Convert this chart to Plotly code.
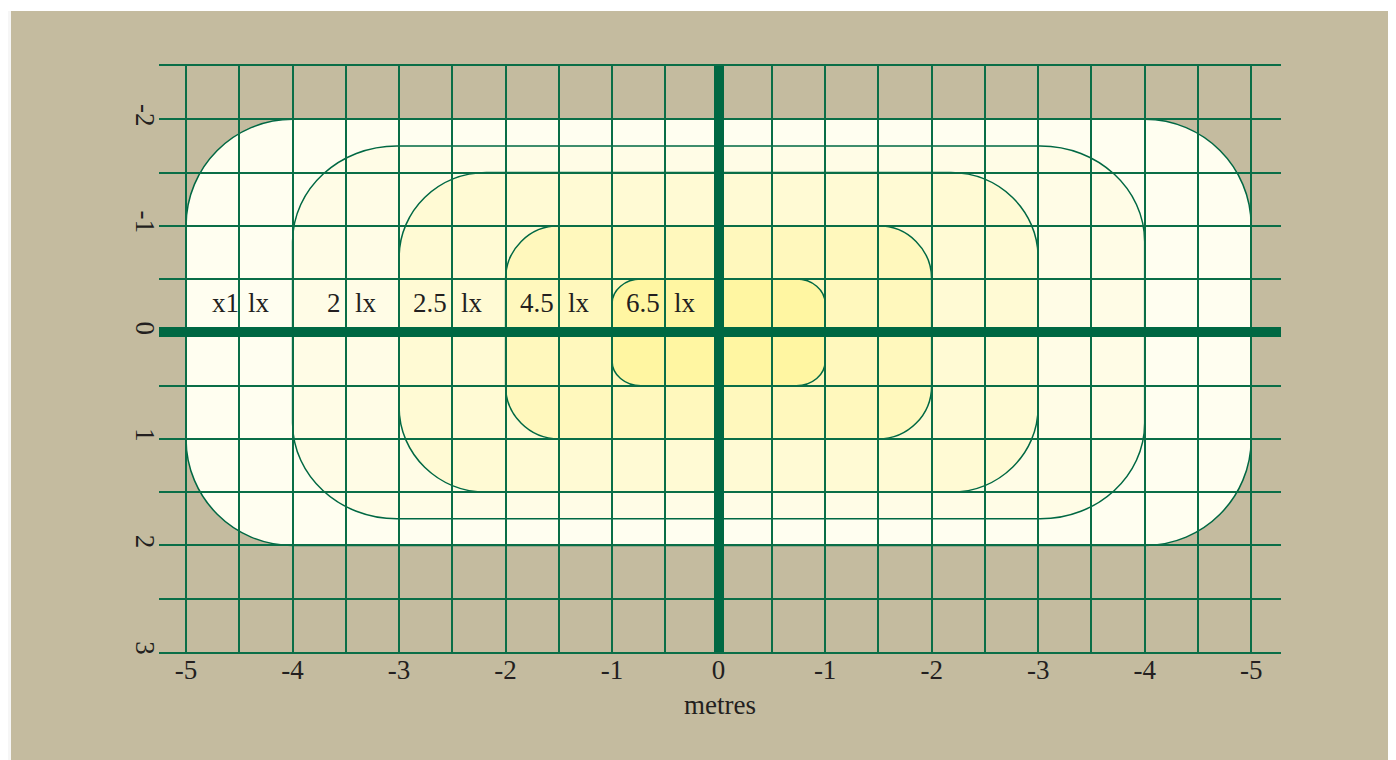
import numpy as np
import plotly.graph_objects as go

# ---- data ----
level_labels = ["x1", "2", "2.5", "4.5", "6.5"]
half_width = [5.0, 4.0, 3.0, 2.0, 1.0]
half_height = [2.0, 1.75, 1.5, 1.0, 0.5]
corner_rx = [1.0, 0.98, 0.82, 0.5, 0.27]
corner_ry = [1.0, 0.9, 0.8, 0.5, 0.23]
label_x = [-4.5, -3.5, -2.5, -1.5, -0.5]
label_y = -0.28

x_tickvals = [-5, -4, -3, -2, -1, 0, 1, 2, 3, 4, 5]
x_ticktext = ["-5", "-4", "-3", "-2", "-1", "0", "-1", "-2", "-3", "-4", "-5"]
y_tickvals = [-2, -1, 0, 1, 2, 3]
y_ticktext = ["-2", "-1", "0", "1", "2", "3"]

fills = ["#fffef0", "#fffce6", "#fffad4", "#fff8bd", "#fff6a2"]
GREEN = "#006843"
GRID = "#0a6e47"
TAN = "#c4bb9f"
TXT = "#231f20"
FONT = "Liberation Serif"
number_shift = [2, -3, -3, -3, -3]


def rounded_rect_path(a, b, rx, ry):
    k = 0.5523
    p = [f"M {-a+rx},{-b}", f"L {a-rx},{-b}",
         f"C {a-rx+k*rx},{-b} {a},{-b+ry-k*ry} {a},{-b+ry}",
         f"L {a},{b-ry}",
         f"C {a},{b-ry+k*ry} {a-rx+k*rx},{b} {a-rx},{b}",
         f"L {-a+rx},{b}",
         f"C {-a+rx-k*rx},{b} {-a},{b-ry+k*ry} {-a},{b-ry}",
         f"L {-a},{-b+ry}",
         f"C {-a},{-b+ry-k*ry} {-a+rx-k*rx},{-b} {-a+rx},{-b}", "Z"]
    return " ".join(p)


fig = go.Figure()
fig.add_trace(go.Scatter(x=[0], y=[0], mode="markers", marker=dict(opacity=0),
                         hoverinfo="skip", showlegend=False))

shapes = []
shapes.append(dict(type="rect", xref="paper", yref="paper", x0=-0.2, x1=1.3,
                   y0=1.0939, y1=1.2, fillcolor="white", line_width=0, layer="below"))
shapes.append(dict(type="rect", xref="paper", yref="paper", x0=-0.2, x1=-0.1319,
                   y0=-0.3, y1=1.0939, fillcolor="#f6f6f6", line_width=0, layer="below"))
for a, b, rx, ry, fc in zip(half_width, half_height, corner_rx, corner_ry, fills):
    shapes.append(dict(type="path", xref="x", yref="y",
                       path=rounded_rect_path(a, b, rx, ry),
                       fillcolor=fc, line=dict(color=GREEN, width=1.5), layer="below"))

annotations = []
for lab, lx, sh in zip(level_labels, label_x, number_shift):
    annotations.append(dict(x=lx, y=label_y, xref="x", yref="y", text=lab,
                            showarrow=False, xanchor="right", xshift=sh,
                            font=dict(family=FONT, size=27, color=TXT)))
    annotations.append(dict(x=lx, y=label_y, xref="x", yref="y", text="lx",
                            showarrow=False, xanchor="left", xshift=7,
                            font=dict(family=FONT, size=27, color=TXT)))
annotations.append(dict(x=0.5, y=-0.0904, xref="paper", yref="paper", text="metres",
                        showarrow=False, xanchor="center", yanchor="middle",
                        font=dict(family=FONT, size=27, color=TXT)))

minor_x = list(np.arange(-5, 5.01, 0.5))
minor_y = list(np.arange(-2.5, 3.01, 0.5))

fig.update_layout(
    width=1388, height=752,
    margin=dict(l=151, r=115, t=58, b=108),
    paper_bgcolor=TAN, plot_bgcolor=TAN,
    shapes=shapes, annotations=annotations,
    showlegend=False,
    xaxis=dict(range=[-5.254, 5.28], tickmode="array", tickvals=x_tickvals,
               ticktext=x_ticktext, showgrid=True, gridcolor=GRID, gridwidth=1.6,
               minor=dict(tickmode="array", tickvals=minor_x, showgrid=True,
                          gridcolor=GRID, gridwidth=1.6),
               zeroline=True, zerolinecolor=GREEN, zerolinewidth=10,
               showline=True, mirror=True, linecolor=GRID, linewidth=1.6,
               ticks="", ticklabelstandoff=-7,
               tickfont=dict(family=FONT, size=27, color=TXT),
               fixedrange=True),
    yaxis=dict(range=[3, -2.5], tickmode="array", tickvals=y_tickvals,
               ticktext=y_ticktext, showgrid=True, gridcolor=GRID, gridwidth=1.6,
               minor=dict(tickmode="array", tickvals=minor_y, showgrid=True,
                          gridcolor=GRID, gridwidth=1.6),
               zeroline=True, zerolinecolor=GREEN, zerolinewidth=10,
               showline=False, ticks="", tickangle=90, ticklabelstandoff=-5,
               tickfont=dict(family=FONT, size=27, color=TXT), fixedrange=True),
)

fig.write_html("out.html")
